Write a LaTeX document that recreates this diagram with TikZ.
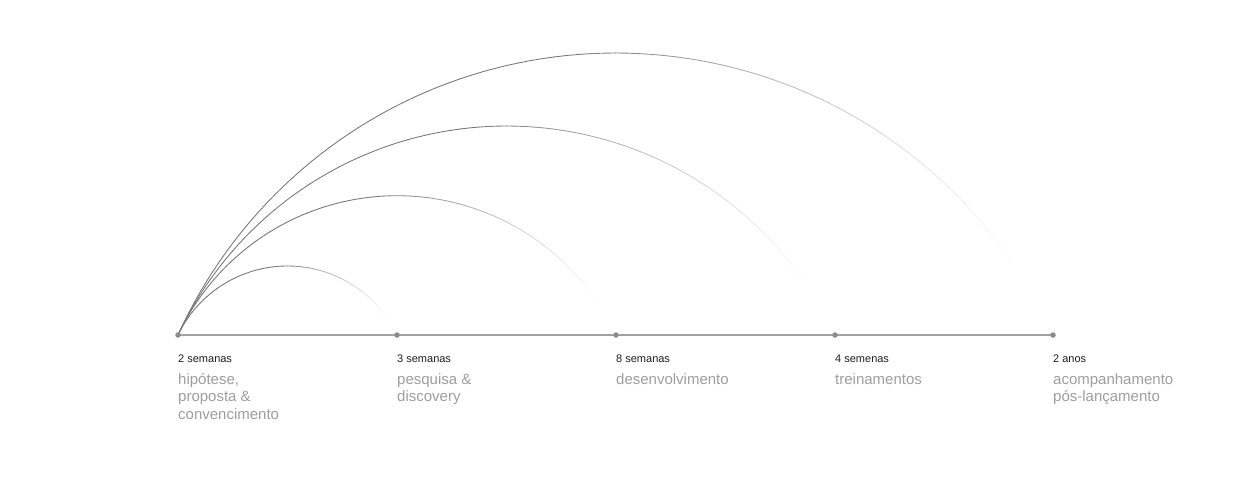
\documentclass[tikz,border=0pt]{standalone}
\usepackage{fontspec}
\setmainfont{Liberation Sans}
\definecolor{arcgray}{HTML}{767676}
\definecolor{linegray}{HTML}{A3A3A3}
\definecolor{dotgray}{HTML}{8C8C8C}
\definecolor{durtext}{HTML}{1E1E1E}
\definecolor{desctext}{HTML}{9E9E9E}
\tikzset{
  timeline/.style={draw=linegray, line width=1.3pt},
  tdot/.style={circle, fill=dotgray, inner sep=0pt, minimum size=5.5pt},
  arcseg/.style={line width=0.85pt, line cap=round},
  durlabel/.style={anchor=base west, inner sep=0pt, text=durtext, font=\fontsize{11}{13}\selectfont},
  desclabel/.style={anchor=base west, inner sep=0pt, text=desctext, font=\fontsize{15}{17.5}\selectfont},
}
\begin{document}
\begin{tikzpicture}[x=1pt, y=-1pt]
\useasboundingbox (0,0) rectangle (1240,477);
% arcs (fading circular arcs from the first dot)
\foreach \cx/\cy/\R/\c in {287.5/387.4/121.4/109.5, 397/437.5/241.8/219, 506.5/488.7/362.7/328.5, 615.5/533.4/480.4/437.5}{
  \pgfmathsetmacro\a{atan((\cy-335)/\c)}
  \pgfmathsetmacro\ts{180-\a}
  \pgfmathsetmacro\te{\a}
  \foreach \i in {0,...,89}{
    \pgfmathsetmacro\tA{\ts-(\i/90)*(\ts-\te)}
    \pgfmathsetmacro\tB{\ts-((\i+1)/90)*(\ts-\te)}
    \pgfmathsetmacro\p{100*max(0,min(1,(0.95-(\i+0.5)/90)/0.5))^1.3}
    \draw[arcseg, draw=arcgray!\p!white] ({\cx+\R*cos(\tA)},{\cy-\R*sin(\tA)}) -- ({\cx+\R*cos(\tB)},{\cy-\R*sin(\tB)});
  }
}
% timeline
\coordinate (p1) at (178,335);
\coordinate (p2) at (397,335);
\coordinate (p3) at (616,335);
\coordinate (p4) at (835,335);
\coordinate (p5) at (1053,335);
\draw[timeline] (p1) -- (p5);
\node[tdot] (d1) at (p1) {};
\node[tdot] (d2) at (p2) {};
\node[tdot] (d3) at (p3) {};
\node[tdot] (d4) at (p4) {};
\node[tdot] (d5) at (p5) {};
% labels
\node[durlabel] (l1) at (178,362.7) {2 semanas};
\node[durlabel] (l2) at (397,362.7) {3 semanas};
\node[durlabel] (l3) at (616,362.7) {8 semanas};
\node[durlabel] (l4) at (835,362.7) {4 semenas};
\node[durlabel] (l5) at (1053,362.7) {2 anos};
\node[desclabel] (a1) at (178,384) {hipótese,};
\node[desclabel] (a2) at (178,401.5) {proposta \&};
\node[desclabel] (a3) at (178,419) {convencimento};
\node[desclabel] (b1) at (397,384) {pesquisa \&};
\node[desclabel] (b2) at (397,401.5) {discovery};
\node[desclabel] (c1) at (616,384) {desenvolvimento};
\node[desclabel] (e1) at (835,384) {treinamentos};
\node[desclabel] (f1) at (1053,384) {acompanhamento};
\node[desclabel] (f2) at (1053,401.5) {pós-lançamento};
\end{tikzpicture}
\end{document}
